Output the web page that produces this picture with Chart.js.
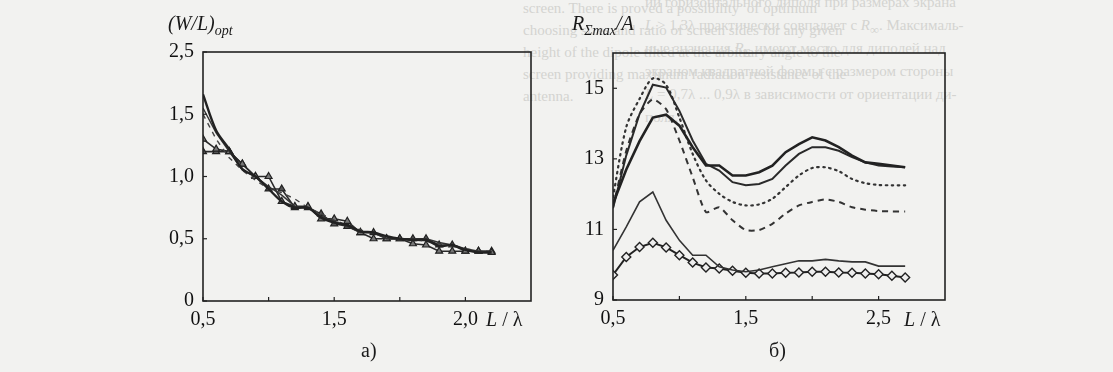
<!DOCTYPE html>
<html>
<head>
<meta charset="utf-8">
<script src="https://cdn.jsdelivr.net/npm/chart.js@4.4.1/dist/chart.umd.min.js"></script>
<style>
  body { margin: 0; width: 1113px; height: 372px; background: #f2f2f0; position: relative; overflow: hidden;
         font-family: "Liberation Serif", serif; color: #1a1a1a; }
  .ghost { position: absolute; font-size: 15px; color: #d4d4d1; white-space: nowrap; }
  .lbl { position: absolute; font-size: 20px; white-space: nowrap; }
  .box { position: absolute; }
</style>
</head>
<body>
<!-- faint show-through text from the other page side -->
<div class="ghost" style="left:523px;top:0px">screen. There is proved a possibility &nbsp;of optimum</div>
<div class="ghost" style="left:523px;top:22px">choosing sizes and ratio of screen sides for any given</div>
<div class="ghost" style="left:523px;top:44px">height of the dipole tilted at the arbitrary angle to the</div>
<div class="ghost" style="left:523px;top:66px">screen providing maximum radiation resistance of the</div>
<div class="ghost" style="left:523px;top:88px">antenna.</div>
<div class="ghost" style="left:645px;top:-6px">ии горизонтального диполя при размерах экрана</div>
<div class="ghost" style="left:645px;top:17px"><i>L</i> &gt; 1,3λ практически совпадает с <i>R</i><sub>∞</sub>. Максималь-</div>
<div class="ghost" style="left:645px;top:40px">ные значения <i>R</i><sub>Σ</sub> имеют место для диполей над</div>
<div class="ghost" style="left:645px;top:63px">экраном квадратной формы с размером стороны</div>
<div class="ghost" style="left:645px;top:86px"><i>L</i> = 0,7λ ... 0,9λ в зависимости от ориентации ди-</div>
<div class="ghost" style="left:645px;top:109px">поля.</div>

<div class="box" style="left:130px;top:0;width:420px;height:372px"><canvas id="chartA"></canvas></div>
<div class="box" style="left:540px;top:0;width:420px;height:372px"><canvas id="chartB"></canvas></div>

<div class="lbl" style="left:168px;top:12px;font-style:italic">(W/L)<sub style="font-size:14px">opt</sub></div>
<div class="lbl" style="left:572px;top:12px;font-style:italic">R<sub style="font-size:14px">Σmax</sub>/A</div>
<div class="lbl" style="left:486px;top:308px"><i>L</i> / λ</div>
<div class="lbl" style="left:904px;top:308px"><i>L</i> / λ</div>
<div class="lbl" style="left:361px;top:339px">а)</div>
<div class="lbl" style="left:769px;top:339px">б)</div>

<script>
// L/lambda values, step 0.1
const xValues = [0.5, 0.6, 0.7, 0.8, 0.9, 1.0, 1.1, 1.2, 1.3, 1.4, 1.5, 1.6,
                 1.7, 1.8, 1.9, 2.0, 2.1, 2.2, 2.3, 2.4, 2.5, 2.6, 2.7];

// chart a) (W/L)opt
const wlSmooth = [1.66, 1.37, 1.22, 1.06, 1.0, 0.9, 0.8, 0.75, 0.75, 0.67, 0.63, 0.61,
                  0.56, 0.55, 0.52, 0.5, 0.49, 0.49, 0.44, 0.45, 0.41, 0.39, 0.39];
const wlThin = [1.55, 1.35, 1.2, 1.05, 1.0, 0.92, 0.85, 0.76, 0.75, 0.68, 0.64, 0.6,
                0.55, 0.55, 0.5, 0.5, 0.5, 0.5, 0.47, 0.45, 0.42, 0.4, 0.4];
const wlTriA = [1.3, 1.22, 1.2, 1.1, 1.0, 1.0, 0.8, 0.76, 0.76, 0.66, 0.66, 0.64,
                0.55, 0.5, 0.5, 0.5, 0.46, 0.45, 0.4, 0.4, 0.4, 0.4, 0.39];
const wlTriB = [1.2, 1.2, 1.2, 1.1, 1.0, 0.9, 0.9, 0.75, 0.75, 0.7, 0.62, 0.6,
                0.55, 0.55, 0.5, 0.5, 0.5, 0.5, 0.45, 0.45, 0.4, 0.4, 0.4];
const wlDash = [1.5, 1.3, 1.15, 1.05, 0.97, 0.9, 0.87, 0.82, 0.75, 0.7, 0.65, 0.61,
                0.57, 0.54, 0.51, 0.5, 0.49, 0.48, 0.46, 0.44, 0.42, 0.4, 0.4];

// chart б) R_sum max / A
const rThickA = [11.73, 12.7, 13.5, 14.17, 14.25, 13.94, 13.33, 12.81, 12.81, 12.53, 12.53, 12.62,
                 12.81, 13.19, 13.42, 13.61, 13.52, 13.33, 13.09, 12.9, 12.86, 12.81, 12.76];
const rThickB = [11.6, 13.1, 14.27, 15.1, 15.02, 14.36, 13.52, 12.86, 12.67, 12.34, 12.25, 12.29,
                 12.43, 12.81, 13.14, 13.33, 13.33, 13.23, 13.05, 12.9, 12.81, 12.78, 12.76];
const rDotted = [11.92, 13.9, 14.7, 15.28, 15.1, 14.17, 13.14, 12.39, 12.01, 11.78, 11.68, 11.71,
                 11.87, 12.2, 12.53, 12.74, 12.76, 12.65, 12.43, 12.31, 12.26, 12.25, 12.25];
const rDashed = [11.63, 13.23, 14.27, 14.69, 14.41, 13.52, 12.48, 11.49, 11.63, 11.26, 10.98, 10.98,
                 11.16, 11.45, 11.68, 11.78, 11.85, 11.78, 11.63, 11.56, 11.52, 11.51, 11.51];
const rThin = [10.41, 11.07, 11.78, 12.06, 11.26, 10.69, 10.27, 10.27, 9.94, 9.85, 9.8, 9.85,
               9.94, 10.03, 10.11, 10.11, 10.15, 10.11, 10.08, 10.08, 9.96, 9.96, 9.96];
const rDiamond = [9.71, 10.22, 10.5, 10.62, 10.49, 10.27, 10.06, 9.92, 9.89, 9.83, 9.77, 9.75,
                  9.75, 9.77, 9.78, 9.8, 9.8, 9.78, 9.77, 9.75, 9.73, 9.69, 9.64];

// tick values and labels as printed
const xTicks = [0.5, 1.0, 1.5, 2.0, 2.5];
const xTickLabelsA = { 0.5: '0,5', 1.5: '1,5', 2.5: '2,0' };
const xTickLabelsB = { 0.5: '0,5', 1.5: '1,5', 2.5: '2,5' };
const yTicksA = [0, 0.5, 1.0, 1.5, 2.0];
const yTickLabelsA = { 0: '0', 0.5: '0,5', 1: '1,0', 1.5: '1,5', 2: '2,5' };
const yTicksB = [9, 11, 13, 15];

const ink = '#222';
const font = { family: 'Liberation Serif', size: 20 };

function pts(ys) {
  return ys.map((y, i) => ({ x: xValues[i], y: y }));
}

// frame around the plot and small inward tick marks
const framePlugin = {
  id: 'frame',
  afterDatasetsDraw(chart) {
    const ctx = chart.ctx, a = chart.chartArea;
    ctx.save();
    ctx.strokeStyle = ink;
    ctx.lineWidth = 1.6;
    ctx.strokeRect(a.left, a.top, a.right - a.left, a.bottom - a.top);
    ctx.lineWidth = 1.2;
    chart.scales.x.ticks.forEach(t => {
      const px = chart.scales.x.getPixelForValue(t.value);
      ctx.beginPath(); ctx.moveTo(px, a.bottom); ctx.lineTo(px, a.bottom - 4); ctx.stroke();
    });
    chart.scales.y.ticks.forEach(t => {
      const py = chart.scales.y.getPixelForValue(t.value);
      ctx.beginPath(); ctx.moveTo(a.left, py); ctx.lineTo(a.left + 4, py); ctx.stroke();
    });
    ctx.restore();
  }
};

function makeOptions(yMin, yMax, yTicks, xLabels, yCallback, top, bottom, right) {
  return {
    responsive: true,
    maintainAspectRatio: false,
    animation: false,
    layout: { padding: { top: top, right: right, left: 0, bottom: 0 } },
    plugins: { legend: { display: false }, tooltip: { enabled: false } },
    scales: {
      x: {
        type: 'linear', min: 0.5, max: 3.0,
        grid: { display: false, drawTicks: false }, border: { display: false },
        ticks: { color: '#111', font: font, padding: 7, autoSkip: false, maxRotation: 0,
                 callback: v => xLabels[v] || '' },
        afterBuildTicks: s => { s.ticks = xTicks.map(v => ({ value: v })); },
        afterFit: s => { s.height = bottom; }
      },
      y: {
        min: yMin, max: yMax,
        grid: { display: false, drawTicks: false }, border: { display: false },
        ticks: { color: '#111', font: font, padding: 9, autoSkip: false, callback: yCallback },
        afterBuildTicks: s => { s.ticks = yTicks.map(v => ({ value: v })); },
        afterFit: s => { s.width = 73; }
      }
    }
  };
}

new Chart('chartA', {
  type: 'line',
  data: {
    datasets: [
      { data: pts(wlSmooth), borderColor: ink, borderWidth: 2.4, pointRadius: 0, tension: 0.3 },
      { data: pts(wlThin), borderColor: '#333', borderWidth: 1.4, pointRadius: 0 },
      { data: pts(wlDash), borderColor: '#444', borderWidth: 1.4, borderDash: [5, 5], pointRadius: 0 },
      { data: pts(wlTriA), borderColor: '#2a2a2a', borderWidth: 1.6, pointStyle: 'triangle',
        pointRadius: 4, pointBackgroundColor: '#777', pointBorderColor: '#222', pointBorderWidth: 1.2 },
      { data: pts(wlTriB), borderColor: '#2a2a2a', borderWidth: 1.6, pointStyle: 'triangle',
        pointRadius: 4, pointBackgroundColor: '#555', pointBorderColor: '#222', pointBorderWidth: 1.2 }
    ]
  },
  options: makeOptions(0, 2, yTicksA, xTickLabelsA,
    v => yTickLabelsA[v] !== undefined ? yTickLabelsA[v] : '', 52, 71, 19),
  plugins: [framePlugin]
});

new Chart('chartB', {
  type: 'line',
  data: {
    datasets: [
      { data: pts(rThickA), borderColor: ink, borderWidth: 2.6, pointRadius: 0 },
      { data: pts(rThickB), borderColor: '#2a2a2a', borderWidth: 2.0, pointRadius: 0 },
      { data: pts(rDotted), borderColor: '#333', borderWidth: 2.2, borderDash: [1.5, 4.5],
        borderCapStyle: 'round', pointRadius: 0, tension: 0.3 },
      { data: pts(rDashed), borderColor: '#333', borderWidth: 2.0, borderDash: [6, 5],
        pointRadius: 0, tension: 0.2 },
      { data: pts(rThin), borderColor: '#333', borderWidth: 1.6, pointRadius: 0 },
      { data: pts(rDiamond), borderColor: ink, borderWidth: 2.0, pointStyle: 'rectRot',
        pointRadius: 4.5, pointBackgroundColor: '#eee', pointBorderColor: '#222', pointBorderWidth: 1.4 }
    ]
  },
  options: makeOptions(9, 16, yTicksB, xTickLabelsB, v => String(v), 53, 72, 15),
  plugins: [framePlugin]
});
</script>
</body>
</html>
